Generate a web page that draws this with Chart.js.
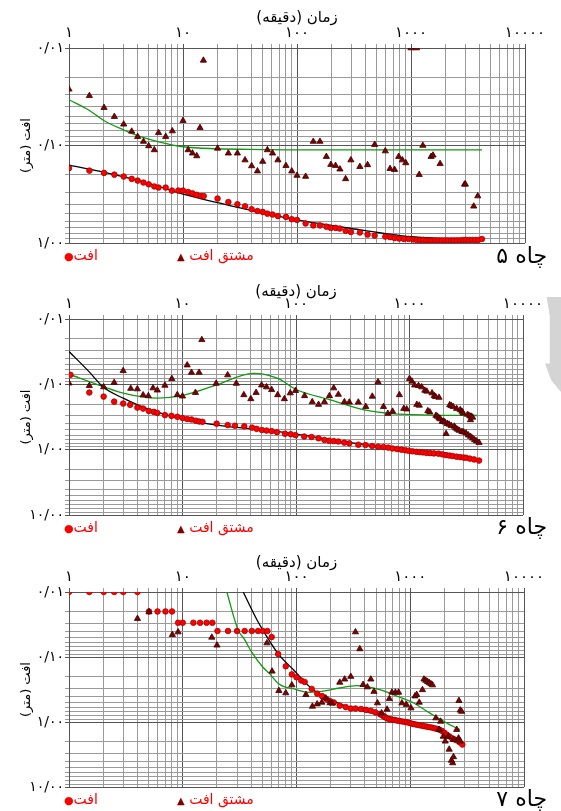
<!DOCTYPE html>
<html>
<head>
<meta charset="utf-8">
<script src="https://cdn.jsdelivr.net/npm/chart.js@4.4.1/dist/chart.umd.min.js"></script>
<style>
  body{margin:0;width:561px;height:811px;position:relative;background:#fff;overflow:hidden;font-family:"DejaVu Sans",sans-serif}
  .box{position:absolute;left:0;width:561px}
  .lg{position:absolute;color:#f00;font-size:14px;direction:rtl;white-space:nowrap;line-height:18px}
  .lg .c{color:#f00;font-size:11px}
  .lg .t{color:#800000;font-size:10px}
  .ttl{position:absolute;right:14px;font-size:22px;direction:rtl;white-space:nowrap;line-height:26px}
  .mark{position:absolute;left:545px;top:297px;width:16px;height:95px;background:#d4d4d4;
        clip-path:polygon(10% 0,100% 0,100% 100%,40% 88%,0 70%,30% 70%,30% 20%)}
</style>
</head>
<body>
<div class="mark"></div>
<div class="box" style="top:0;height:270px"><canvas id="c5"></canvas></div>
<div class="box" style="top:270px;height:265px"><canvas id="c6"></canvas></div>
<div class="box" style="top:540px;height:271px"><canvas id="c7"></canvas></div>

<div class="lg" style="left:64px;top:246px">افت<span class="c">●</span></div>
<div class="lg" style="left:177px;top:246px">مشتق افت <span class="t">▲</span></div>
<div class="ttl" style="top:243px">چاه ۵</div>

<div class="lg" style="left:64px;top:518px">افت<span class="c">●</span></div>
<div class="lg" style="left:177px;top:518px">مشتق افت <span class="t">▲</span></div>
<div class="ttl" style="top:514px">چاه ۶</div>

<div class="lg" style="left:64px;top:790px">افت<span class="c">●</span></div>
<div class="lg" style="left:177px;top:790px">مشتق افت <span class="t">▲</span></div>
<div class="ttl" style="top:786px">چاه ۷</div>

<script>
// axis labels
const xMajor = [1, 10, 100, 1000, 10000];
const xMajorLabels = ['۱', '۱۰', '۱۰۰', '۱۰۰۰', '۱۰۰۰۰'];
const yMajor = [0.01, 0.1, 1, 10];
const yMajorLabels = ['۰/۰۱', '۰/۱۰', '۱/۰۰', '۱۰/۰۰'];
const xTitle = 'زمان (دقیقه)';
const yTitle = 'افت (متر)';

/* ---------- well 5 ---------- */
const w5DrawT = [1,1.51,2.03,2.5,3.02,3.55,4.0,4.5,5.0,5.6,6.1,7.05,8.0,9.1,10,11.1,12.1,13.2,14.4,15.2,20.1,25,30,35,40,45,50,55,61,68,80,90,100,119,139,159,181,198,218,237,267,297,356,416,480,595,655,718,788,867,952,1050,1120,1200,1280,1360,1450,1540,1640,1750,1860,1980,2100,2240,2380,2530,2690,2860,3040,3230,3440,3660,3890,4190];
const w5DrawS = [0.171,0.181,0.191,0.199,0.208,0.22,0.229,0.24,0.25,0.263,0.27,0.27,0.29,0.29,0.29,0.30,0.31,0.32,0.33,0.33,0.35,0.38,0.40,0.42,0.45,0.47,0.48,0.50,0.51,0.53,0.54,0.57,0.58,0.63,0.66,0.66,0.68,0.70,0.70,0.71,0.75,0.77,0.78,0.82,0.84,0.86,0.87,0.89,0.90,0.91,0.91,0.92,0.93,0.93,0.93,0.94,0.94,0.94,0.94,0.94,0.94,0.94,0.94,0.94,0.94,0.94,0.94,0.93,0.93,0.93,0.93,0.93,0.93,0.91];
const w5DerT = [1,1.51,2.03,2.5,3.02,3.55,4.0,4.5,5.0,5.6,6.1,7.05,8.06,10,11.1,12.1,13.2,14.1,15.1,20.1,25,30,35,40,45,50,55,61,68,80,90,100,119,139,159,181,198,218,238,267,297,356,416,480,595,655,718,780,840,900,1000,1120,1180,1270,1500,1560,1800,2950,3000,3550,3850];
const w5DerS = [0.0265,0.0309,0.0409,0.0506,0.0606,0.0716,0.0812,0.091,0.101,0.111,0.074,0.081,0.071,0.0557,0.111,0.12,0.128,0.0657,0.0134,0.107,0.12,0.12,0.141,0.162,0.183,0.146,0.111,0.12,0.141,0.161,0.183,0.203,0.208,0.091,0.091,0.13,0.157,0.161,0.175,0.22,0.141,0.165,0.158,0.098,0.114,0.173,0.177,0.13,0.141,0.151,0.01,0.01,0.199,0.1,0.13,0.126,0.154,0.25,0.25,0.42,0.33];
const w5FitT = [1,2,5,10,30,100,300,1000,4200];
const w5FitS = [0.159,0.188,0.245,0.316,0.43,0.58,0.71,0.86,0.93];
const w5TrendT = [1,1.5,2,3,4,6,10,20,50,100,4200];
const w5TrendS = [0.034,0.0435,0.055,0.069,0.079,0.091,0.103,0.108,0.11,0.111,0.111];

/* ---------- well 6 ---------- */
const w6DrawT = [1.03,1.51,2.02,2.5,3.0,3.46,4.0,4.5,5.05,5.6,6.0,7.0,8.0,9.0,10,11,12,13.1,14,15,20,25,29,35,41,45,50,55,61,68,80,90,99,118,137,158,178,196,215,236,266,295,354,410,469,530,590,650,710,780,850,920,980,1060,1150,1230,1310,1410,1520,1640,1800,1950,2100,2250,2400,2600,2800,3000,3150,3400,3700,4100];
const w6DrawS = [0.0716,0.1335,0.154,0.184,0.197,0.206,0.227,0.235,0.256,0.264,0.274,0.296,0.304,0.314,0.327,0.34,0.345,0.36,0.37,0.375,0.40,0.42,0.43,0.44,0.46,0.48,0.50,0.51,0.52,0.54,0.57,0.58,0.60,0.63,0.64,0.67,0.71,0.73,0.74,0.75,0.78,0.80,0.84,0.85,0.88,0.90,0.91,0.93,0.96,0.98,1.00,1.02,1.04,1.06,1.08,1.09,1.10,1.12,1.13,1.14,1.15,1.18,1.21,1.23,1.25,1.28,1.30,1.32,1.33,1.37,1.41,1.47];
const w6DerT = [1,1.51,2.02,2.5,3.0,3.5,4.0,4.5,5.0,5.5,6.0,7.0,8.05,9.0,10,11,12,13,14,14.8,19.8,25,29.8,34.7,40,44.5,49.8,55,61,69,79,89,99,119,139,158,178,197,215,236,267,295,354,412,470,528,590,645,710,815,890,945,1000,1050,1110,1160,1200,1220,1280,1365,1420,1450,1510,1580,1650,1700,1710,1760,1820,1820,1870,1940,2000,2050,2100,2150,2230,2260,2330,2330,2420,2480,2550,2600,2650,2750,2800,2900,2900,2970,3000,3150,3250,3300,3400,3450,3450,3500,3600,3600,3750,3900,4100];
const w6DerS = [0.096,0.105,0.11,0.094,0.062,0.116,0.118,0.146,0.15,0.114,0.123,0.104,0.082,0.145,0.152,0.0508,0.066,0.134,0.066,0.0208,0.097,0.072,0.097,0.145,0.167,0.134,0.103,0.11,0.121,0.145,0.167,0.136,0.125,0.15,0.186,0.204,0.186,0.15,0.114,0.143,0.186,0.188,0.188,0.22,0.153,0.092,0.22,0.28,0.26,0.145,0.235,0.24,0.082,0.09,0.103,0.204,0.105,0.21,0.11,0.124,0.128,0.255,0.266,0.136,0.15,0.155,0.30,0.31,0.159,0.33,0.34,0.37,0.37,0.38,0.57,0.40,0.41,0.207,0.212,0.43,0.22,0.44,0.47,0.235,0.49,0.51,0.246,0.26,0.53,0.277,0.54,0.56,0.29,0.60,0.305,0.35,0.63,0.31,0.32,0.67,0.71,0.74,0.78];
const w6FitT = [1,1.5,2,3,5,10,20,70,300,1000,4100];
const w6FitS = [0.0314,0.064,0.11,0.163,0.24,0.34,0.42,0.53,0.78,1.03,1.47];
const w6TrendT = [1,2,3,6,10,20,42,70,100,200,400,700,1500,3950];
const w6TrendS = [0.070,0.108,0.136,0.163,0.148,0.102,0.068,0.082,0.12,0.173,0.246,0.28,0.295,0.30];

/* ---------- well 7 ---------- */
const w7DrawT = [1,1.51,2.02,2.5,3.0,4.0,5.05,6.0,7.05,8.05,9.1,10,12.4,14.2,16.2,18.2,20.2,25,30,35,40.5,46,50.6,55.5,60.5,69,80.5,91,100,110,118,136,152,168,185,198,213,240,271,300,330,370,408,450,492,537,560,585,600,625,655,690,725,765,805,845,890,935,980,1030,1080,1140,1200,1270,1330,1400,1470,1550,1630,1715,1800,1900,2000,2100,2200,2320,2440,2570,2720,2870];
const w7DrawS = [0.01,0.01,0.01,0.01,0.01,0.01,0.0199,0.0199,0.0199,0.0199,0.0297,0.0297,0.0297,0.0297,0.0297,0.0297,0.0398,0.0398,0.0398,0.0398,0.0398,0.0398,0.0398,0.0398,0.0493,0.090,0.139,0.185,0.205,0.23,0.242,0.31,0.366,0.40,0.45,0.48,0.50,0.56,0.59,0.62,0.62,0.63,0.65,0.67,0.71,0.75,0.78,0.82,0.84,0.88,0.90,0.92,0.93,0.95,0.965,0.98,0.995,1.01,1.03,1.06,1.08,1.10,1.12,1.14,1.16,1.18,1.20,1.22,1.25,1.27,1.31,1.37,1.47,1.57,1.66,1.77,1.85,1.92,2.05,2.22];
const w7DerT = [4.0,5.05,8.1,9.1,18,20,55,61,70,80.5,91,121,138,152,167,181,197,206,240,265,300,330,360,385,420,450,480,515,560,625,655,690,740,790,845,925,1015,1100,1140,1200,1280,1320,1370,1420,1470,1520,1570,1680,1800,1850,1950,2030,2160,2200,2300,2360,2400,2400,2560,2660,2680,2750,2750,2830];
const w7DerS = [0.0257,0.0203,0.0454,0.0413,0.0499,0.066,0.061,0.166,0.33,0.358,0.27,0.38,0.575,0.53,0.50,0.43,0.51,0.515,0.246,0.22,0.20,0.0413,0.0752,0.266,0.29,0.22,0.34,0.51,0.73,0.64,0.44,0.35,0.35,0.35,0.51,0.54,0.61,0.40,0.38,0.50,0.32,0.22,0.23,0.24,0.25,0.26,0.27,0.87,1.31,0.98,1.67,1.98,1.67,2.64,3.9,4.27,1.87,3.44,1.31,1.77,0.47,1.98,0.66,0.69];
const w7FitT = [34,45,55,70,94,140,275,540,1070,2100,2830];
const w7FitS = [0.01,0.027,0.049,0.092,0.157,0.32,0.575,0.77,1.04,1.57,2.0];
const w7TrendT = [24.4,30.6,35,40,50,58,70,100,125,160,240,340,540,765,1070,1490,2100,2730];
const w7TrendS = [0.01,0.038,0.054,0.082,0.14,0.18,0.26,0.317,0.35,0.34,0.30,0.276,0.317,0.40,0.51,0.73,1.04,1.31];

function pts(t, s){ return t.map((v, i) => ({x: v, y: s[i]})); }

function logTicks(min, max){
  const out = [];
  for(let d = min; d < max * 0.999; d *= 10){
    for(let k = 1; k <= 9; k++) out.push(+(k * d).toPrecision(6));
  }
  out.push(max);
  return out;
}

function isIn(list, v){ return list.findIndex(m => Math.abs(m - v) / m < 1e-6); }

function makePanel(id, p){
  const ctx = document.getElementById(id).getContext('2d');
  new Chart(ctx, {
    type: 'scatter',
    data: {
      datasets: [
        { data: pts(p.derT, p.derS), pointStyle: 'triangle', pointRadius: 3.6,
          backgroundColor: '#800000', borderColor: '#3a0000', borderWidth: 0.8 },
        { data: pts(p.drawT, p.drawS), pointStyle: 'circle', pointRadius: 2.8,
          backgroundColor: '#ff0000', borderColor: '#a00000', borderWidth: 0.8 },
        { data: pts(p.fitT, p.fitS), showLine: true, pointRadius: 0, borderColor: '#000',
          borderWidth: 1.3, cubicInterpolationMode: 'monotone' },
        { data: pts(p.trendT, p.trendS), showLine: true, pointRadius: 0, borderColor: '#119911',
          borderWidth: 1.3, cubicInterpolationMode: 'monotone' }
      ]
    },
    options: {
      responsive: true,
      maintainAspectRatio: false,
      animation: false,
      layout: { padding: { left: 0, right: p.padRight, top: 0, bottom: p.padBottom } },
      plugins: { legend: { display: false }, tooltip: { enabled: false } },
      scales: {
        x: {
          type: 'logarithmic', position: 'top', min: 1, max: 10000,
          afterBuildTicks: s => { s.ticks = logTicks(1, 10000).map(v => ({value: v})); },
          afterFit: s => { s.height = p.xH; },
          ticks: {
            autoSkip: false, maxRotation: 0, padding: 2, color: '#000',
            font: { family: 'DejaVu Sans', size: 15 },
            callback: v => { const i = isIn(xMajor, v); return i >= 0 ? xMajorLabels[i] : ''; }
          },
          grid: {
            tickLength: 4, lineWidth: 1,
            color: c => isIn(xMajor, c.tick.value) >= 0 ? '#555' : '#9a9a9a'
          },
          border: { color: '#555' },
          title: { display: true, text: xTitle, color: '#000',
            font: { family: 'DejaVu Sans', size: 15 }, padding: { top: p.titleTop, bottom: 0 } }
        },
        y: {
          type: 'logarithmic', reverse: true, min: 0.01, max: p.yMax,
          afterBuildTicks: s => { s.ticks = logTicks(0.01, p.yMax).map(v => ({value: v})); },
          afterFit: s => { s.width = 69; },
          ticks: {
            autoSkip: false, padding: 1, color: '#000',
            font: { family: 'DejaVu Sans', size: 14 },
            callback: v => { const i = isIn(yMajor, v); return i >= 0 ? yMajorLabels[i] : ''; }
          },
          grid: {
            tickLength: 4, lineWidth: 1,
            color: c => isIn(yMajor, c.tick.value) >= 0 ? '#555' : '#9a9a9a'
          },
          border: { color: '#555' },
          title: { display: true, text: yTitle, color: '#000',
            font: { family: 'DejaVu Sans', size: 13 }, padding: { top: 19, bottom: 0 } }
        }
      }
    }
  });
}

makePanel('c5', { drawT: w5DrawT, drawS: w5DrawS, derT: w5DerT, derS: w5DerS,
  fitT: w5FitT, fitS: w5FitS, trendT: w5TrendT, trendS: w5TrendS,
  yMax: 1, xH: 48, padRight: 36, padBottom: 27, titleTop: 9 });
makePanel('c6', { drawT: w6DrawT, drawS: w6DrawS, derT: w6DerT, derS: w6DerS,
  fitT: w6FitT, fitS: w6FitS, trendT: w6TrendT, trendS: w6TrendS,
  yMax: 10, xH: 49, padRight: 38, padBottom: 20, titleTop: 13 });
makePanel('c7', { drawT: w7DrawT, drawS: w7DrawS, derT: w7DerT, derS: w7DerS,
  fitT: w7FitT, fitS: w7FitS, trendT: w7TrendT, trendS: w7TrendS,
  yMax: 10, xH: 52, padRight: 37, padBottom: 24, titleTop: 14 });
</script>
</body>
</html>
